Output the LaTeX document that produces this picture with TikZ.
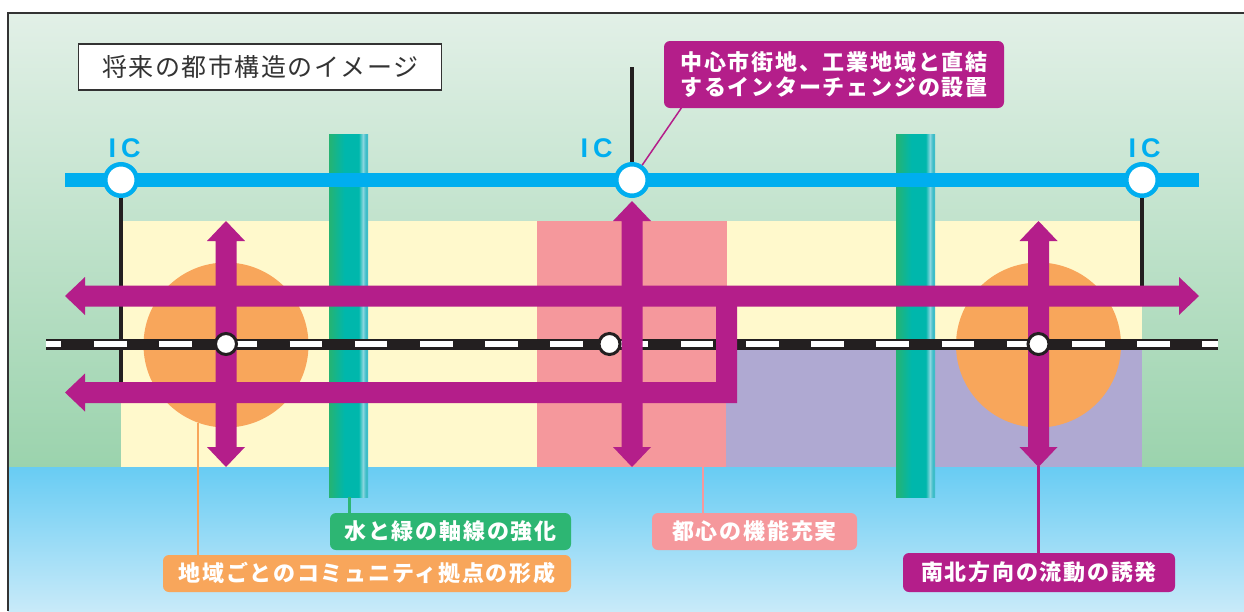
\documentclass[tikz,border=0pt]{standalone}
\usepackage{fontspec}
\newfontfamily\jplab{Noto Sans CJK JP}[LetterSpace=8]
\newfontfamily\jptitle{Noto Sans CJK JP}[LetterSpace=6]
\newfontfamily\icf{Liberation Sans}
\definecolor{mag}{HTML}{B41E8A}
\definecolor{hw}{HTML}{00AEEF}
\definecolor{yel}{HTML}{FFF9CC}
\definecolor{pnk}{HTML}{F5989C}
\definecolor{pur}{HTML}{AFA9D2}
\definecolor{org}{HTML}{F8A65B}
\definecolor{grl}{HTML}{2DB673}
\definecolor{rail}{HTML}{231F20}
\definecolor{bgtop}{HTML}{E2F0E7}
\definecolor{bgbot}{HTML}{9BD3AD}
\definecolor{sktop}{HTML}{68CCF3}
\definecolor{skmid}{HTML}{7AD2F4}
\definecolor{skbot}{HTML}{C8EAF9}
\definecolor{barA}{HTML}{25B372}
\definecolor{barB}{HTML}{00B7AC}
\definecolor{barC}{HTML}{8AD6DF}
\definecolor{barD}{HTML}{3EBDC8}
\pgfdeclarehorizontalshading{barsh}{100bp}{color(0bp)=(barA); color(25bp)=(barA); color(45bp)=(barB); color(63bp)=(barB); color(68.5bp)=(barC); color(72bp)=(barD); color(100bp)=(barD)}
\tikzset{
  lab/.style={rounded corners=6pt, inner sep=0pt, text=white, align=center,
    font=\jplab\bfseries\fontsize{22}{25}\selectfont},
  iclab/.style={font=\icf\bfseries\fontsize{27}{30}\selectfont, text=hw, anchor=base, inner sep=0pt},
  icc/.style={circle, draw=hw, fill=white, line width=4.5pt, minimum size=31.5pt, inner sep=0pt},
  stn/.style={circle, draw=rail, fill=white, line width=3pt, minimum size=21pt, inner sep=0pt},
  blk/.style={draw=rail, line width=4.5pt},
  arr/.style={fill=mag},
  greenbar/.style={shading=barsh}
}
\begin{document}
\begin{tikzpicture}[x=1pt,y=-1pt]
\useasboundingbox (0,0) rectangle (1244,611);
\fill[white] (0,0) rectangle (1244,611);
% background
\shade[top color=bgtop, bottom color=bgbot] (8,13) rectangle (1244,467);
\shade[top color=sktop, middle color=skmid, bottom color=skbot] (8,467) rectangle (1244,611);
\draw[black!80, line width=2.5pt] (8,611) -- (8,13) -- (1244,13);
% areas
\fill[yel] (121,221) rectangle (1142,467);
\fill[pnk] (537,221) rectangle (727,467);
\fill[pur] (726,346) rectangle (1142,467);
\fill[org] (226,345) circle[radius=82.5];
\fill[org] (1038.5,345) circle[radius=82.5];
% green axes
\shade[greenbar] (329,134) rectangle (368,497);
\shade[greenbar] (896,134) rectangle (935,497);
% IC connectors
\draw[blk] (121,180) -- (121,392);
\draw[blk] (1142,180) -- (1142,296);
\draw[blk] (632,67) -- (632,180);
% highway
\draw[hw, line width=13.5pt] (65,180) -- (1199,180);
\node[icc] (ic1) at (121,180) {};
\node[icc] (ic2) at (632,180) {};
\node[icc] (ic3) at (1142,180) {};
\node[iclab] (icl1) at (124.5,157) {I\hspace{5pt}C};
\node[iclab] (icl2) at (596.5,157) {I\hspace{5pt}C};
\node[iclab] (icl3) at (1144.5,157) {I\hspace{5pt}C};
% railway
\draw[rail, line width=11pt] (46,344) -- (1218,344);
\draw[white, line width=5.5pt, dash pattern=on 32.6pt off 32.6pt, dash phase=17.2pt] (46,344) -- (1218,344);
% magenta arrows
\fill[arr] (65,296) -- (85,277) -- (85,285.5) -- (1179,285.5) -- (1179,277) -- (1199,296) -- (1179,315) -- (1179,306.5) -- (85,306.5) -- (85,315) -- cycle;
\fill[arr] (65,392.5) -- (85,373.5) -- (85,382) -- (716,382) -- (716,300) -- (737,300) -- (737,403) -- (85,403) -- (85,411.5) -- cycle;
\fill[arr] (226,221) -- (245,241) -- (236.5,241) -- (236.5,447) -- (245,447) -- (226,467) -- (207,447) -- (215.5,447) -- (215.5,241) -- (207,241) -- cycle;
\fill[arr] (632,201) -- (651,221) -- (642.5,221) -- (642.5,447) -- (651,447) -- (632,467) -- (613,447) -- (621.5,447) -- (621.5,221) -- (613,221) -- cycle;
\fill[arr] (1038.5,221) -- (1057.5,241) -- (1049,241) -- (1049,447) -- (1057.5,447) -- (1038.5,467) -- (1019.5,447) -- (1028,447) -- (1028,241) -- (1019.5,241) -- cycle;
% stations
\node[stn] (st1) at (226,344) {};
\node[stn] (st2) at (609.5,344) {};
\node[stn] (st3) at (1038.5,344) {};
% title
\node[draw=black!80, fill=white, line width=1.2pt, minimum width=363pt, minimum height=46pt, inner sep=0pt,
  font=\jptitle\fontsize{25}{30}\selectfont, text=black!80] (title) at (260,67) {将来の都市構造のイメージ};
% labels
\node[lab, fill=mag, minimum width=340pt, minimum height=67pt] (ltop) at (834,74.5) {中心市街地、工業地域と直結\\するインターチェンジの設置};
\node[lab, fill=grl, minimum width=241pt, minimum height=37pt] (lgreen) at (450.5,531.5) {水と緑の軸線の強化};
\node[lab, fill=org, minimum width=408pt, minimum height=37pt] (lorg) at (367,573.5) {地域ごとのコミュニティ拠点の形成};
\node[lab, fill=pnk, minimum width=205pt, minimum height=37pt] (lpink) at (754.5,531.5) {都心の機能充実};
\node[lab, fill=mag, minimum width=272pt, minimum height=39pt] (lmag) at (1039,572.5) {南北方向の流動の誘発};
% leaders
\coordinate (ltopA) at (682,107);
\draw[mag, line width=1.5pt] (ltopA) -- (ic2);
\coordinate (gA) at (349,497);
\draw[grl, line width=3pt] (gA) -- (gA |- lgreen.north);
\coordinate (oA) at (198,423);
\draw[org, line width=2.5pt] (oA) -- (oA |- lorg.north);
\coordinate (pA) at (703,467);
\draw[pnk, line width=2.5pt] (pA) -- (pA |- lpink.north);
\coordinate (mA) at (1038.5,466);
\draw[mag, line width=2.5pt] (mA) -- (mA |- lmag.north);
\end{tikzpicture}
\end{document}
